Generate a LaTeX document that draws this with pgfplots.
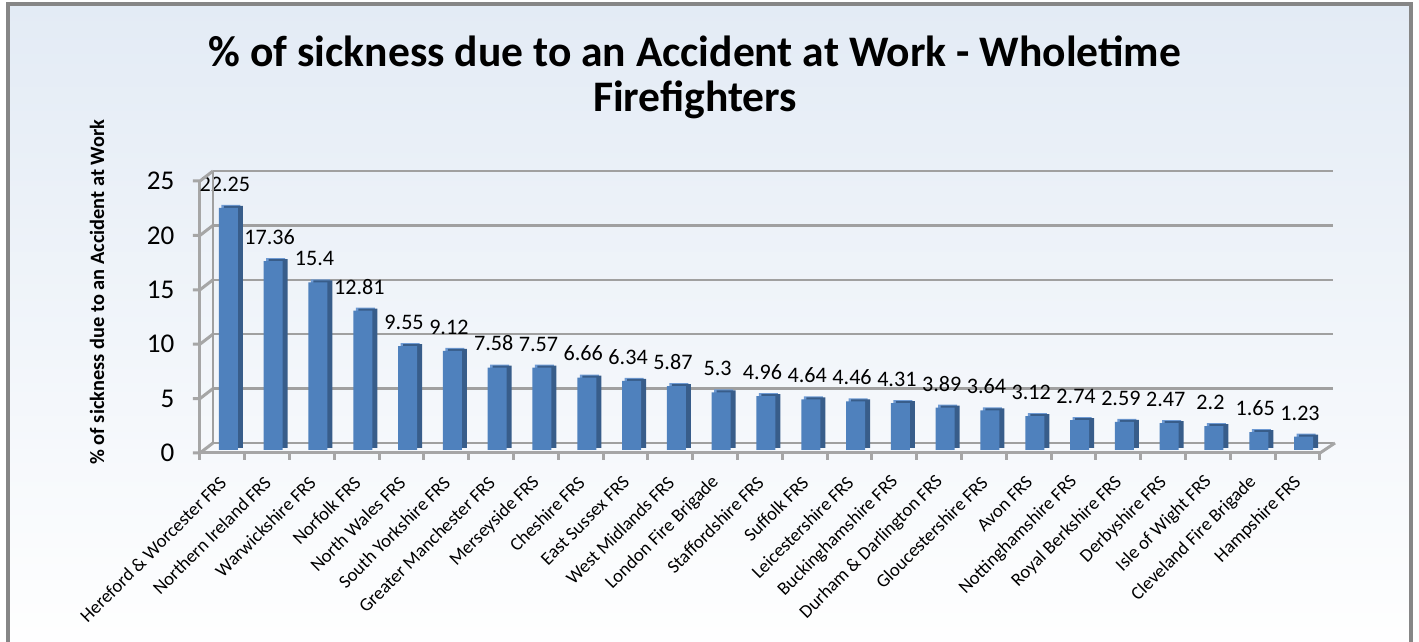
\documentclass[border=0pt]{standalone}
\usepackage{pgfplots}
\usepackage{pgfplotstable}
\pgfplotsset{compat=1.18}
\usepackage{fontspec}
\setmainfont{Carlito}
\definecolor{barfront}{HTML}{4F81BD}
\definecolor{barside}{HTML}{385D8A}
\definecolor{bartop}{HTML}{6E9AD3}
\definecolor{gridc}{HTML}{A0A0A0}
\definecolor{axc}{HTML}{A6A6A6}
\definecolor{framec}{HTML}{868686}
\definecolor{bgtop}{HTML}{E3EBF5}

\pgfplotstableread{
idx v
0 22.25
1 17.36
2 15.4
3 12.81
4 9.55
5 9.12
6 7.58
7 7.57
8 6.66
9 6.34
10 5.87
11 5.3
12 4.96
13 4.64
14 4.46
15 4.31
16 3.89
17 3.64
18 3.12
19 2.74
20 2.59
21 2.47
22 2.2
23 1.65
24 1.23
}\datatable

\begin{document}
\begin{tikzpicture}[x=1cm,y=1cm]
\shade[top color=bgtop, bottom color=white] (0.08,-0.2) rectangle (14.11,6.375);
\draw[framec, line width=0.04cm] (0.08,-0.2) rectangle (14.11,6.375);

\node[font=\bfseries\fontsize{12.4pt}{12.8pt}\selectfont, align=center] at (6.95,5.645)
  {\% of sickness due to an Accident at Work - Wholetime\\Firefighters};

\node[rotate=90, font=\bfseries\fontsize{5.8pt}{6.5pt}\selectfont] at (0.97,3.50)
  {\% of sickness due to an Accident at Work};

\begin{axis}[
  at={(2.00cm,1.89cm)}, anchor=south west,
  scale only axis, width=11.2cm, height=2.72cm,
  xmin=-0.5, xmax=24.5, ymin=0, ymax=25,
  clip=false,
  axis x line*=bottom, axis y line*=left,
  axis line style={axc, line width=0.03cm, -},
  ymajorgrids,
  grid style={gridc, line width=0.025cm, xshift=0.13cm, yshift=0.10cm},
  ytick={0,5,...,25},
  xtick={0,...,24},
  minor xtick={-0.5,0.5,...,24.5},
  major tick length=0pt,
  minor tick length=0.07cm,
  tick align=outside,
  minor tick style={axc, line width=0.03cm},
  /pgf/number format/assume math mode=true,
  yticklabel style={anchor=east, inner sep=0pt, xshift=-0.25cm, font=\fontsize{7.7pt}{8pt}\selectfont},
  xticklabels={{Hereford \& Worcester FRS},{Northern Ireland FRS},{Warwickshire FRS},{Norfolk FRS},{North Wales FRS},{South Yorkshire FRS},{Greater Manchester FRS},{Merseyside FRS},{Cheshire FRS},{East Sussex FRS},{West Midlands FRS},{London Fire Brigade},{Staffordshire FRS},{Suffolk FRS},{Leicestershire FRS},{Buckinghamshire FRS},{Durham \& Darlington FRS},{Gloucestershire FRS},{Avon FRS},{Nottinghamshire FRS},{Royal Berkshire FRS},{Derbyshire FRS},{Isle of Wight FRS},{Cleveland Fire Brigade},{Hampshire FRS}},
  xticklabel style={xshift=0.01cm, yshift=-0.26cm, rotate=45, anchor=east, inner sep=0pt, font=\fontsize{5.3pt}{6pt}\selectfont},
]
\addplot[ybar, bar width=0.19cm, bar shift=0.085cm, yshift=0.06cm, fill=bartop, draw=none] table[x=idx,y=v] {\datatable};
\addplot[ybar, bar width=0.19cm, bar shift=0.11cm, yshift=0.05cm, fill=barside, draw=none] table[x=idx,y=v] {\datatable};
\addplot[ybar, bar width=0.19cm, bar shift=0.06cm, yshift=0.03cm, fill=barfront, draw=none,
  nodes near coords,
  every node near coord/.append style={anchor=south, font=\fontsize{6.3pt}{7pt}\selectfont, xshift=0.025cm, yshift=0.04cm}]
  table[x=idx,y=v] {\datatable};
\end{axis}

% left wall and floor edges
\foreach \k in {0,...,5} {
  \draw[axc, line width=0.03cm] (1.93,1.89+0.544*\k) -- (2.00,1.89+0.544*\k) -- (2.13,1.99+0.544*\k);
}
\draw[gridc, line width=0.025cm] (2.13,1.99) -- (2.13,4.71);
\draw[axc, line width=0.03cm] (13.20,1.89) -- (13.35,1.99);
\pgfresetboundingbox
\useasboundingbox (0,0) rectangle (14.19,6.42);
\end{tikzpicture}
\end{document}
